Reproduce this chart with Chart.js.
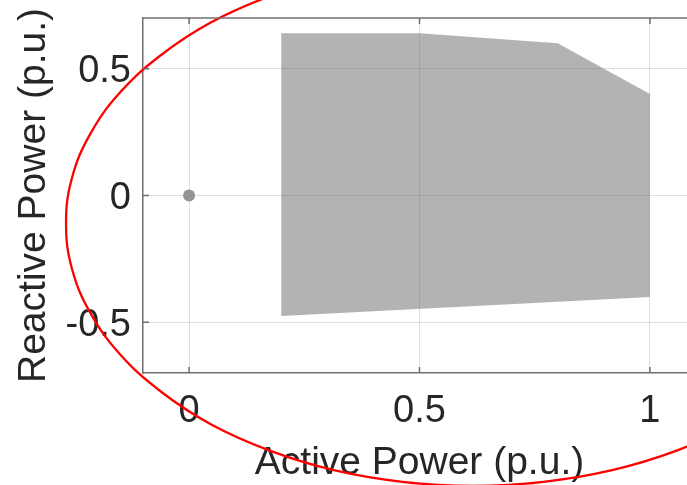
<!DOCTYPE html>
<html>
<head>
<meta charset="utf-8">
<script src="https://cdn.jsdelivr.net/npm/chart.js@4.4.1/dist/chart.umd.min.js"></script>
<style>
  html, body { margin: 0; padding: 0; background: #ffffff; overflow: hidden; }
  #wrap { width: 687px; height: 485px; overflow: hidden; position: relative; }
  canvas { display: block; }
</style>
</head>
<body>
<div id="wrap"><canvas id="c" width="700" height="485"></canvas></div>
<script>
// ---- data ----
const xTicks = [0, 0.5, 1];
const yTicks = [-0.5, 0, 0.5];
const xLabel = 'Active Power (p.u.)';
const yLabel = 'Reactive Power (p.u.)';

// operating region (grey polygon), active / reactive power
const regionP = [0.2, 0.5, 0.8, 1.0, 1.0, 0.2, 0.2];
const regionQ = [0.64, 0.64, 0.60, 0.40, -0.40, -0.475, 0.64];

// operating point
const pointP = [0];
const pointQ = [0];

// red capability curve
const curveP = [0.463, 0.314, 0.175, 0.048, -0.060, -0.149, -0.214, -0.254, -0.267, -0.254, -0.214, -0.149, -0.060, 0.048, 0.175, 0.314, 0.463, 0.616, 0.769, 0.918, 1.058, 1.184, 1.292];
const curveQ = [0.909, 0.863, 0.786, 0.683, 0.555, 0.408, 0.244, 0.070, -0.110, -0.290, -0.464, -0.628, -0.775, -0.903, -1.006, -1.083, -1.129, -1.145, -1.129, -1.083, -1.006, -0.903, -0.775];

const toXY = (xs, ys) => xs.map((x, i) => ({ x: x, y: ys[i] }));

const FONT = "'Liberation Sans', Arial, Helvetica, sans-serif";
const TEXT = '#262626';
const AXIS = '#6f6f6f';

const boxPlugin = {
  id: 'boxPlugin',
  afterDraw(chart) {
    const { ctx, chartArea, scales } = chart;
    const xs = scales.x, ys = scales.y;
    ctx.save();
    ctx.strokeStyle = AXIS;
    ctx.lineWidth = 1.5;
    // top border
    ctx.beginPath();
    ctx.moveTo(chartArea.left, chartArea.top);
    ctx.lineTo(chartArea.right, chartArea.top);
    ctx.stroke();
    // inward tick marks
    const L = 6;
    ctx.beginPath();
    xTicks.forEach(v => {
      const px = xs.getPixelForValue(v);
      ctx.moveTo(px, chartArea.bottom); ctx.lineTo(px, chartArea.bottom - L);
      ctx.moveTo(px, chartArea.top); ctx.lineTo(px, chartArea.top + L);
    });
    yTicks.forEach(v => {
      const py = ys.getPixelForValue(v);
      ctx.moveTo(chartArea.left, py); ctx.lineTo(chartArea.left + L, py);
      ctx.moveTo(chartArea.right, py); ctx.lineTo(chartArea.right - L, py);
    });
    ctx.stroke();
    ctx.restore();
  }
};

new Chart(document.getElementById('c'), {
  type: 'scatter',
  data: {
    datasets: [
      {
        label: 'curve',
        data: toXY(curveP, curveQ),
        showLine: true,
        borderColor: '#ff0000',
        borderWidth: 2.3,
        pointRadius: 0,
        tension: 0.4,
        fill: false,
        clip: false
      },
      {
        label: 'point',
        data: toXY(pointP, pointQ),
        pointRadius: 6,
        pointBackgroundColor: '#959595',
        pointBorderWidth: 0
      },
      {
        label: 'region',
        data: toXY(regionP, regionQ),
        showLine: true,
        borderColor: 'rgba(0,0,0,0)',
        borderWidth: 1,
        backgroundColor: 'rgba(115,115,115,0.54)',
        pointRadius: 0,
        tension: 0,
        fill: 'shape'
      }
    ]
  },
  options: {
    responsive: false,
    animation: false,
    events: [],
    layout: { autoPadding: false, padding: { top: 18, right: 4, bottom: 0, left: 0 } },
    plugins: { legend: { display: false }, tooltip: { enabled: false } },
    scales: {
      x: {
        type: 'linear',
        min: -0.1,
        max: 1.1,
        afterBuildTicks: s => { s.ticks = xTicks.map(v => ({ value: v })); },
        afterFit: s => { s.height = 112; s.paddingLeft = 0; s.paddingRight = 0; s.paddingTop = 0; s.paddingBottom = 0; },
        grid: { color: 'rgba(38,38,38,0.15)', lineWidth: 1, drawTicks: false },
        border: { display: true, color: AXIS, width: 1.5 },
        ticks: {
          padding: 16,
          maxRotation: 0,
          autoSkip: false,
          color: TEXT,
          font: { family: FONT, size: 38 },
          callback: v => String(v)
        },
        title: {
          display: true,
          text: xLabel,
          color: TEXT,
          font: { family: FONT, size: 39 },
          padding: { top: 0, bottom: -2 }
        }
      },
      y: {
        type: 'linear',
        min: -0.7,
        max: 0.7,
        afterBuildTicks: s => { s.ticks = yTicks.map(v => ({ value: v })); },
        afterFit: s => { s.width = 143; s.paddingLeft = 0; s.paddingRight = 0; s.paddingTop = 0; s.paddingBottom = 0; },
        grid: { color: 'rgba(38,38,38,0.15)', lineWidth: 1, drawTicks: false },
        border: { display: true, color: AXIS, width: 1.5 },
        ticks: {
          padding: 12,
          labelOffset: 3,
          autoSkip: false,
          color: TEXT,
          font: { family: FONT, size: 38 },
          callback: v => String(v)
        },
        title: {
          display: true,
          text: yLabel,
          color: TEXT,
          font: { family: FONT, size: 39 },
          padding: { top: 11, bottom: 0 }
        }
      }
    }
  },
  plugins: [boxPlugin]
});
</script>
</body>
</html>
